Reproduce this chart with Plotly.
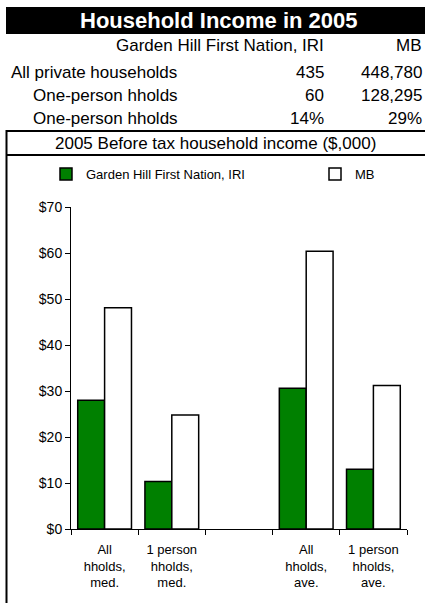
import plotly.graph_objects as go

# data ($,000)
categories = ['All<br>hholds,<br>med.', '1 person<br>hholds,<br>med.', ' ',
              'All<br>hholds,<br>ave.', '1 person<br>hholds,<br>ave.']
garden_hill = [28.0, 10.3, None, 30.6, 13.0]
manitoba = [48.1, 24.8, None, 60.4, 31.2]

area_names = ['Garden Hill First Nation, IRI', 'MB']
row_labels = ['All private households', 'One-person hholds', 'One-person hholds']
garden_hill_counts = ['435', '60', '14%']
manitoba_counts = ['448,780', '128,295', '29%']

W, H = 425, 603
L, R, T, B = 71, 18, 207, 74
FONT = 'Liberation Sans, Arial, sans-serif'


def px_x(p):
    return (p - L) / (W - L - R)


def px_y(p):
    return (H - B - p) / (H - T - B)


fig = go.Figure()
fig.add_trace(go.Bar(x=categories, y=garden_hill, name=area_names[0], legend='legend',
                     marker=dict(color='#008000', line=dict(color='black', width=1.5))))
fig.add_trace(go.Bar(x=categories, y=manitoba, name=area_names[1], legend='legend2',
                     marker=dict(color='white', line=dict(color='black', width=1.5))))

legend_common = dict(orientation='h', xanchor='left', yanchor='middle', y=px_y(174),
                     font=dict(size=13), bgcolor='rgba(0,0,0,0)', borderwidth=0)
fig.update_layout(
    width=W, height=H,
    margin=dict(l=L, r=R, t=T, b=B, autoexpand=False),
    paper_bgcolor='white', plot_bgcolor='white',
    font=dict(family=FONT, color='black', size=13),
    barmode='group', bargap=0.2, bargroupgap=0,
    showlegend=True,
    legend=dict(x=px_x(46), **legend_common),
    legend2=dict(x=px_x(315), **legend_common),
)
fig.update_xaxes(showline=True, linecolor='black', linewidth=1, showgrid=False,
                 ticks='outside', tickson='boundaries', ticklen=5, tickcolor='black',
                 tickfont=dict(size=13), ticklabelstandoff=8)
fig.update_yaxes(range=[0, 70], dtick=10, tickprefix='$', showline=True, linecolor='black',
                 linewidth=1, showgrid=False, ticks='outside', ticklen=5, tickcolor='black',
                 tickfont=dict(size=14), zeroline=False)

shapes = [
    dict(type='rect', x0=px_x(6), x1=px_x(425), y0=px_y(7), y1=px_y(34),
         fillcolor='black', line=dict(width=0)),
    dict(type='line', x0=px_x(6), x1=px_x(425), y0=px_y(131), y1=px_y(131),
         line=dict(color='black', width=2)),
    dict(type='line', x0=px_x(6), x1=px_x(425), y0=px_y(155), y1=px_y(155),
         line=dict(color='black', width=2)),
    dict(type='line', x0=px_x(6.5), x1=px_x(6.5), y0=px_y(130), y1=px_y(603),
         line=dict(color='black', width=2)),
]
for s in shapes:
    s.update(xref='paper', yref='paper', layer='below')
fig.update_layout(shapes=shapes)


def note(text, x, y, anchor, size=17, color='black', bold=False):
    if bold:
        text = '<b>' + text + '</b>'
    fig.add_annotation(text=text, x=px_x(x), y=px_y(y), xref='paper', yref='paper',
                       xanchor=anchor, yanchor='middle', showarrow=False,
                       font=dict(family=FONT, size=size, color=color))


note('Household Income in 2005', 219, 21, 'center', size=22, color='white', bold=True)
note(area_names[0], 326, 45, 'right')
note(area_names[1], 424, 45, 'right')
row_y = [72, 95, 119]
row_x = [9, 31, 31]
for lab, a, b, y, x in zip(row_labels, garden_hill_counts, manitoba_counts, row_y, row_x):
    note(lab, x, y, 'left')
    note(a, 326, y, 'right')
    note(b, 424, y, 'right')
note('2005 Before tax household income ($,000)', 215, 143, 'center')

# page has an 8px body margin by default; drop it so the figure fills the window
fig.write_html('out.html', config={'displayModeBar': False},
               post_script="document.body.style.margin='0';")
